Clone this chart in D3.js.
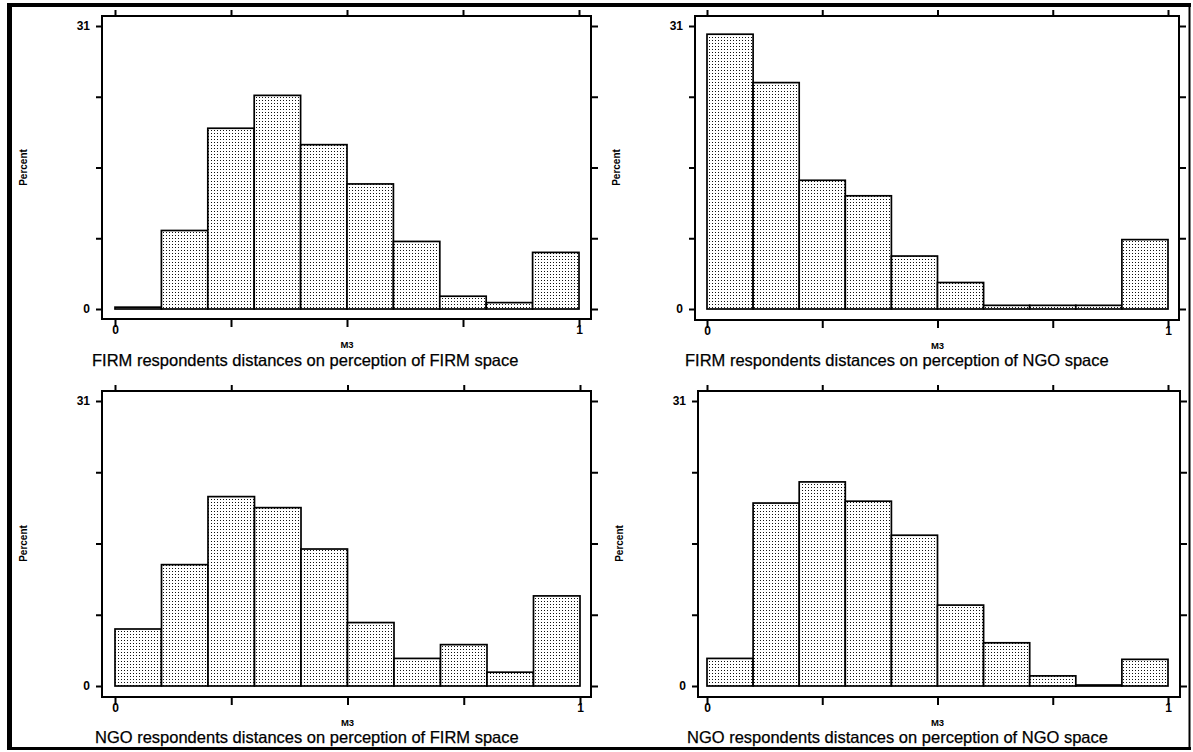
<!DOCTYPE html>
<html>
<head>
<meta charset="utf-8">
<script src="https://cdn.jsdelivr.net/npm/d3@7"></script>
<style>
html,body{margin:0;padding:0;background:#fff;}
svg{display:block;}
</style>
</head>
<body>
<svg id="chart" width="1193" height="752"></svg>
<script>
// ---- data ----
const binStarts = [0, 0.1, 0.2, 0.3, 0.4, 0.5, 0.6, 0.7, 0.8, 0.9];
const binWidth = 0.1;
const firmOnFirm = [0.2, 8.6, 19.8, 23.4, 18.0, 13.7, 7.4, 1.4, 0.7, 6.2];
const firmOnNgo  = [30.1, 24.8, 14.1, 12.4, 5.8, 2.9, 0.4, 0.4, 0.4, 7.6];
const ngoOnFirm  = [6.2, 13.2, 20.6, 19.4, 14.9, 6.9, 3.0, 4.5, 1.5, 9.8];
const ngoOnNgo   = [3.0, 19.9, 22.2, 20.1, 16.4, 8.8, 4.7, 1.1, 0.0, 2.9];
const titles = [
  "FIRM respondents distances on perception of FIRM space",
  "FIRM respondents distances on perception of NGO space",
  "NGO respondents distances on perception of FIRM space",
  "NGO respondents distances on perception of NGO space"
];
const yMax = 31;
const yTickValues = [0, 7.75, 15.5, 23.25, 31];
const yTickLabels = ["0", "31"];
const xTickValues = [0, 0.25, 0.5, 0.75, 1];
const xTickLabels = ["0", "1"];
const xAxisTitle = "M3";
const yAxisTitle = "Percent";

const seriesList = [firmOnFirm, firmOnNgo, ngoOnFirm, ngoOnNgo];

// ---- layout ----
const FONT = "'Liberation Sans', Arial, Helvetica, sans-serif";
const svg = d3.select("#chart");
const defs = svg.append("defs");
const pat = defs.append("pattern").attr("id", "dots")
  .attr("patternUnits", "userSpaceOnUse").attr("width", 3).attr("height", 3);
pat.append("rect").attr("width", 3).attr("height", 3).attr("fill", "#fff");
pat.append("rect").attr("x", 1).attr("y", 1).attr("width", 1).attr("height", 1).attr("fill", "#111");

// outer border
svg.append("line").attr("x1", 9.5).attr("x2", 9.5).attr("y1", 3).attr("y2", 750).attr("stroke", "#000").attr("stroke-width", 5);
svg.append("line").attr("x1", 7).attr("x2", 1191).attr("y1", 5).attr("y2", 5).attr("stroke", "#000").attr("stroke-width", 4);
svg.append("line").attr("x1", 7).attr("x2", 1191).attr("y1", 748.5).attr("y2", 748.5).attr("stroke", "#000").attr("stroke-width", 3);
svg.append("line").attr("x1", 1189.5).attr("x2", 1189.5).attr("y1", 3).attr("y2", 750).attr("stroke", "#000").attr("stroke-width", 2);

const panels = [
  {fx0: 102, fx1: 591, fy0: 16, fy1: 319, x0: 115, x1: 579, y0: 309, y1: 26, titleY: 366, titleX: 92},
  {fx0: 695, fx1: 1179, fy0: 16, fy1: 320, x0: 707, x1: 1168, y0: 309, y1: 26, titleY: 366, titleX: 685},
  {fx0: 102, fx1: 591, fy0: 391, fy1: 697, x0: 115, x1: 580, y0: 686, y1: 401, titleY: 743, titleX: 95},
  {fx0: 698, fx1: 1180, fy0: 391, fy1: 697, x0: 707, x1: 1168, y0: 686, y1: 401, titleY: 743, titleX: 687}
];

panels.forEach((p, i) => {
  const values = seriesList[i];
  const x = d3.scaleLinear().domain([0, 1]).range([p.x0, p.x1]);
  const y = d3.scaleLinear().domain([0, yMax]).range([p.y0, p.y1]);
  const g = svg.append("g");

  // bars
  g.selectAll("rect.bar").data(binStarts).enter().append("rect")
    .attr("class", "bar")
    .attr("x", d => x(d))
    .attr("width", d => x(d + binWidth) - x(d))
    .attr("y", (d, j) => Math.min(y(values[j]), y(0) - 1))
    .attr("height", (d, j) => Math.max(1, y(0) - y(values[j])))
    .attr("fill", "url(#dots)")
    .attr("stroke", "#000")
    .attr("stroke-width", 1.7);

  // frame
  g.append("rect").attr("x", p.fx0).attr("y", p.fy0)
    .attr("width", p.fx1 - p.fx0).attr("height", p.fy1 - p.fy0)
    .attr("fill", "none").attr("stroke", "#000").attr("stroke-width", 2);

  const fmtY = v => v === 0 ? yTickLabels[0] : (v === yMax ? yTickLabels[1] : "");
  const fmtX = v => v === 0 ? xTickLabels[0] : (v === 1 ? xTickLabels[1] : "");

  const left = g.append("g").attr("transform", `translate(${p.fx0},0)`)
    .call(d3.axisLeft(y).tickValues(yTickValues).tickSize(6).tickPadding(6).tickFormat(fmtY));
  const right = g.append("g").attr("transform", `translate(${p.fx1},0)`)
    .call(d3.axisRight(y).tickValues(yTickValues).tickSize(7).tickFormat(""));
  const top = g.append("g").attr("transform", `translate(0,${p.fy0})`)
    .call(d3.axisTop(x).tickValues(xTickValues).tickSize(6).tickFormat(""));
  const bottom = g.append("g").attr("transform", `translate(0,${p.fy1})`)
    .call(d3.axisBottom(x).tickValues(xTickValues).tickSize(8).tickPadding(-2).tickFormat(fmtX));

  [left, right, top, bottom].forEach(a => {
    a.select(".domain").remove();
    a.selectAll(".tick line").attr("stroke", "#000").attr("stroke-width", 2);
    a.selectAll(".tick text").attr("fill", "#000")
      .style("font-family", FONT)
      .style("font-weight", "bold").style("font-size", "12px");
  });

  // axis titles
  g.append("text")
    .attr("transform", `translate(${p.fx0 - 75},${(p.y0 + p.y1) / 2}) rotate(-90)`)
    .attr("text-anchor", "middle")
    .style("font-family", FONT)
    .style("font-weight", "bold").style("font-size", "10px")
    .text(yAxisTitle);

  g.append("text")
    .attr("x", x(0.5)).attr("y", p.fy1 + 29)
    .attr("text-anchor", "middle")
    .style("font-family", FONT)
    .style("font-weight", "bold").style("font-size", "9.5px")
    .text(xAxisTitle);

  g.append("text")
    .attr("x", p.titleX).attr("y", p.titleY)
    .style("font-family", FONT)
    .style("font-size", "16.5px")
    .attr("stroke", "#000").attr("stroke-width", 0.25)
    .text(titles[i]);
});
</script>
</body>
</html>
